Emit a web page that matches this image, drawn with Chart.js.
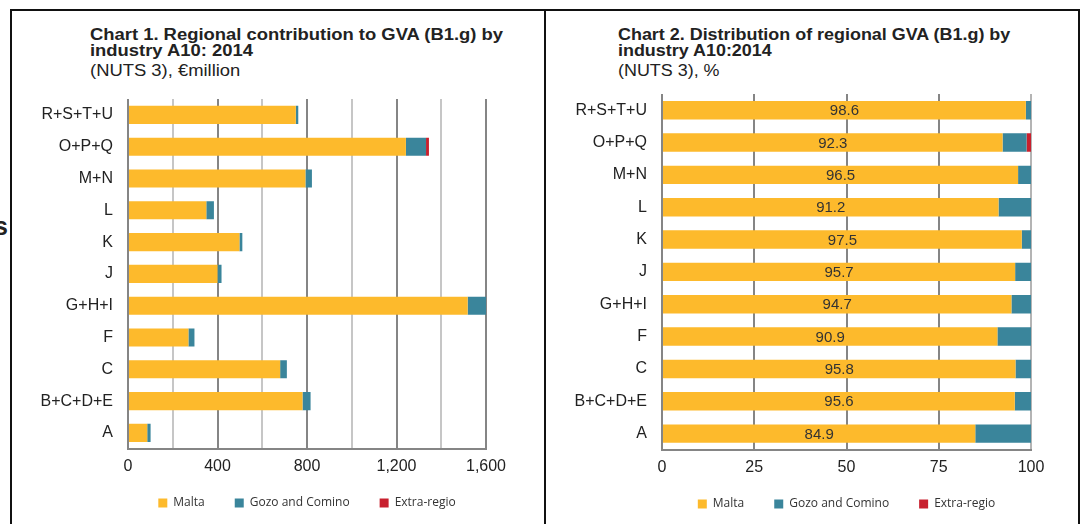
<!DOCTYPE html>
<html>
<head>
<meta charset="utf-8">
<script src="https://cdn.jsdelivr.net/npm/chart.js@4.4.1/dist/chart.umd.min.js"></script>
<style>
  body { margin: 0; width: 1081px; height: 524px; overflow: hidden; background: #fff; position: relative;
         font-family: "Liberation Sans", Arial, sans-serif; color: #222; }
  .box { position: absolute; top: 9px; height: 600px; width: 536px; border: 2px solid #111; border-bottom: none; box-sizing: border-box; }
  .title { position: absolute; top: 27px; font-size: 16px; line-height: 16px; white-space: nowrap; transform-origin: left top; }
  .title b { display: block; }
  .title span { display: block; margin-top: 4px; }
  .wrap { position: absolute; top: 84px; width: 528px; }
  .stray { position: absolute; left: -6px; top: 212px; font: bold 25px "Liberation Sans", Arial, sans-serif; color: #222; }
</style>
</head>
<body>
<div class="stray">s</div>
<div class="box" style="left:10px"></div>
<div class="box" style="left:544px"></div>

<div class="title" style="left:90px; transform:scaleX(1.15)">
  <b>Chart 1. Regional contribution to GVA (B1.g) by</b>
  <b>industry A10: 2014</b>
  <span>(NUTS 3), €million</span>
</div>
<div class="title" style="left:618px; transform:scaleX(1.12)">
  <b>Chart 2. Distribution of regional GVA (B1.g) by</b>
  <b>industry A10:2014</b>
  <span>(NUTS 3), %</span>
</div>

<div class="wrap" style="left:14px; height:452px"><canvas id="chart1"></canvas></div>
<div class="wrap" style="left:548px; height:453px"><canvas id="chart2"></canvas></div>

<script>
const categories = ["R+S+T+U", "O+P+Q", "M+N", "L", "K", "J", "G+H+I", "F", "C", "B+C+D+E", "A"];
const seriesNames = ["Malta", "Gozo and Comino", "Extra-regio"];

// Chart 1, EUR million
const maltaEur = [750, 1242, 793, 350, 498, 400, 1518, 270, 680, 780, 86];
const gozoEur = [11, 90, 29, 34, 13, 18, 85, 27, 30, 36, 15];
const extraEur = [0, 13, 0, 0, 0, 0, 0, 0, 0, 0, 0];
const eurTickLabels = [0, 400, 800, 1200, 1600];

// Chart 2, percent
const maltaPct = [98.6, 92.3, 96.5, 91.2, 97.5, 95.7, 94.7, 90.9, 95.8, 95.6, 84.9];
const gozoPct = [1.4, 6.5, 3.5, 8.8, 2.5, 4.3, 5.3, 9.1, 4.2, 4.4, 15.1];
const extraPct = [0, 1.2, 0, 0, 0, 0, 0, 0, 0, 0, 0];
const pctTickLabels = [0, 25, 50, 75, 100];

const colors = ["#FDBA2C", "#3A859B", "#C8202E"];
const tickFont = { family: '"Liberation Sans", Arial, sans-serif', size: 16 };

function datasets(m, g, e) {
  return [m, g, e].map((d, i) => ({
    label: seriesNames[i],
    data: d,
    backgroundColor: colors[i],
    borderWidth: 0,
    barPercentage: 0.57,
    categoryPercentage: 1
  }));
}

// value labels in the middle of the Malta bars (chart 2)
const valueLabels = {
  id: "valueLabels",
  afterDatasetsDraw(chart) {
    const ctx = chart.ctx;
    const meta = chart.getDatasetMeta(0);
    ctx.save();
    ctx.font = '15px "Liberation Sans", Arial, sans-serif';
    ctx.fillStyle = "#333";
    ctx.textAlign = "center";
    ctx.textBaseline = "middle";
    meta.data.forEach((bar, i) => {
      ctx.fillText(maltaPct[i].toFixed(1), (bar.x + bar.base) / 2, bar.y + 1);
    });
    ctx.restore();
  }
};

// the legend keeps its wide item spacing but sits closer to the axis
const legendLift = {
  id: "legendLift",
  afterLayout(chart) {
    chart.legend.top -= 17;
    chart.legend.bottom -= 17;
  }
};

function makeChart(id, data, xScale, padding, plugins) {
  return new Chart(document.getElementById(id), {
    type: "bar",
    data: { labels: categories, datasets: data },
    options: {
      indexAxis: "y",
      responsive: true,
      maintainAspectRatio: false,
      animation: false,
      layout: { padding: padding },
      scales: {
        x: xScale,
        y: {
          stacked: true,
          grid: { display: false, drawTicks: false },
          border: { display: false },
          ticks: { font: tickFont, color: "#222", padding: 15 },
          afterFit: (s) => {
            s.width = 114;
            s.paddingTop = 0;
            s.paddingBottom = 0;
          }
        }
      },
      plugins: {
        tooltip: { enabled: false },
        legend: {
          position: "bottom",
          fullSize: false,
          labels: {
            boxWidth: 9,
            boxHeight: 9,
            padding: 30,
            color: "#333",
            font: { family: '"Open Sans", sans-serif', size: 12 }
          }
        }
      }
    },
    plugins: [legendLift].concat(plugins)
  });
}

makeChart("chart1", datasets(maltaEur, gozoEur, extraEur), {
  stacked: true,
  min: 0,
  max: 1600,
  ticks: {
    stepSize: 200,
    font: tickFont,
    color: "#222",
    padding: 8,
    maxRotation: 0,
    autoSkip: false,
    callback: (v) => eurTickLabels.includes(v) ? v.toLocaleString("en-US") : ""
  },
  grid: {
    drawTicks: false,
    lineWidth: 2,
    color: (c) => eurTickLabels.includes(c.tick.value) ? "#858585" : "#c6c6c6"
  },
  border: { color: "#858585", width: 2 }
}, { top: 15, right: 56, left: 0, bottom: 0 }, []);

makeChart("chart2", datasets(maltaPct, gozoPct, extraPct), {
  stacked: true,
  min: 0,
  max: 100,
  ticks: {
    stepSize: 25,
    font: tickFont,
    color: "#222",
    padding: 8,
    maxRotation: 0,
    callback: (v) => pctTickLabels.includes(v) ? v : ""
  },
  grid: {
    drawTicks: false,
    lineWidth: 2,
    color: (c) => c.tick.value === 100 ? "#b4b4b4" : "#858585"
  },
  border: { color: "#858585", width: 2 }
}, { top: 10, right: 45, left: 0, bottom: 0 }, [valueLabels]);
</script>
</body>
</html>
